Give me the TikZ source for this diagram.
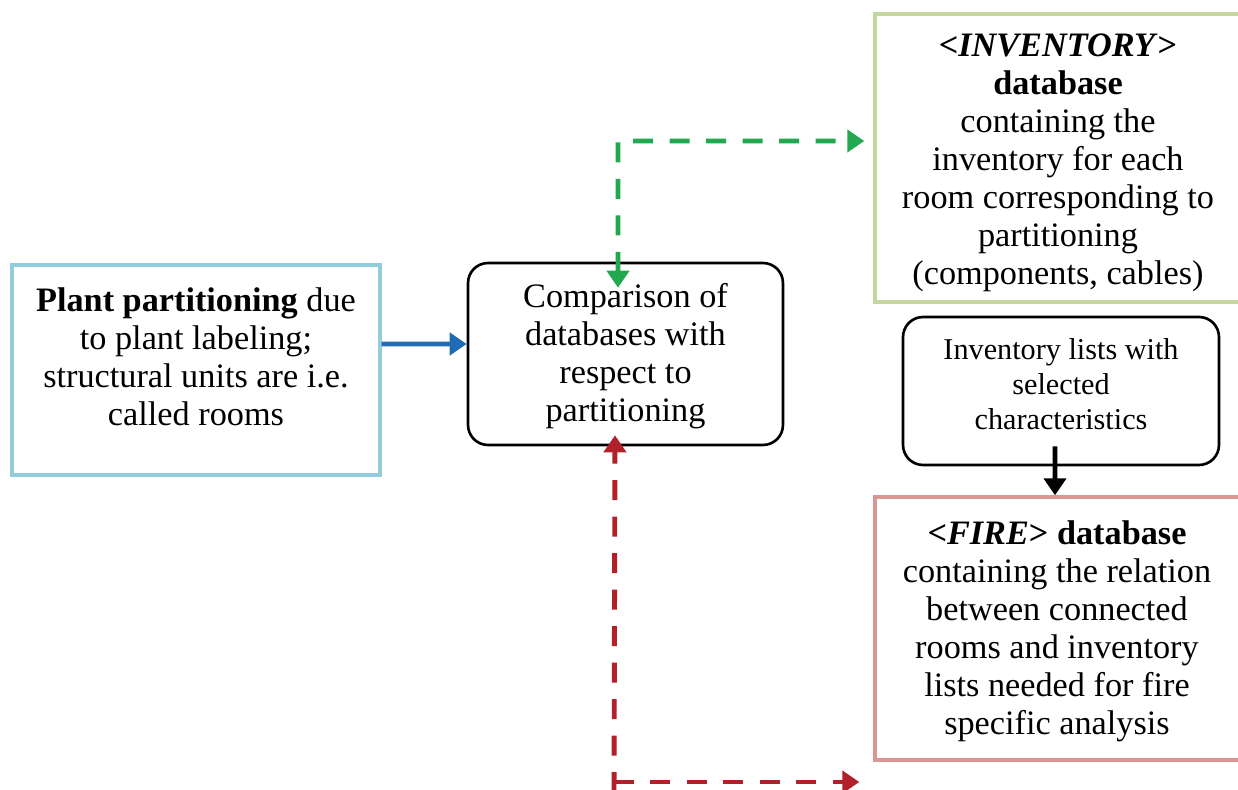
\documentclass[tikz,border=0pt]{standalone}
\usepackage{fontspec}
\setmainfont{Liberation Serif}
\newfontfamily\timesfont{Liberation Serif}
\usetikzlibrary{arrows.meta}
\definecolor{boxcyan}{RGB}{146,205,220}
\definecolor{boxgreen}{RGB}{195,214,155}
\definecolor{boxpink}{RGB}{217,150,148}
\definecolor{arrblue}{RGB}{31,107,181}
\definecolor{arrgreen}{RGB}{34,168,79}
\definecolor{arrred}{RGB}{178,32,42}
\begin{document}
\begin{tikzpicture}[x=0.02cm,y=-0.02cm,
    txt/.style={align=center,inner sep=0pt,font=\fontsize{19.5}{21.6}\selectfont},
    smalltxt/.style={align=center,inner sep=0pt,font=\timesfont\fontsize{17.2}{19.9}\selectfont},
    outbox/.style={draw=#1,line width=2pt,inner sep=0pt},
    roundbox/.style={draw,line width=1.5pt,rounded corners=0.4cm,inner sep=0pt},
    flow/.style={line width=2.8pt,-{Triangle[length=0.34cm,width=0.44cm]}},
    dashflow/.style={flow,dash pattern=on 0.4cm off 0.33cm}]
    \useasboundingbox (0,0) rectangle (1238,790);
    \clip (0,0) rectangle (1238,790);
    \node[outbox=boxcyan,minimum width=7.36cm,minimum height=4.2cm] (plant) at (196,370) {};
    \node[txt] (plantText) at (196,357) {\textbf{Plant partitioning} due\\to plant labeling;\\structural units are i.e.\\called rooms};
    \node[roundbox,minimum width=6.3cm,minimum height=3.64cm] (comp) at (625.5,354) {};
    \node[txt] (compText) at (625.5,356) {Comparison of\\databases with\\respect to\\partitioning};
    \node[outbox=boxgreen,minimum width=7.5cm,minimum height=5.76cm] (inv) at (1062.5,158) {};
    \node[txt] (invText) at (1058,163) {\textbf{<\textit{INVENTORY}>}\\\textbf{database}\\containing the\\inventory for each\\room corresponding to\\partitioning\\(components, cables)};
    \node[roundbox,minimum width=6.32cm,minimum height=2.96cm] (lists) at (1061,391) {};
    \node[smalltxt] (listsText) at (1061,384) {Inventory lists with\\selected\\characteristics};
    \node[outbox=boxpink,minimum width=7.5cm,minimum height=5.26cm] (fire) at (1062.5,628.5) {};
    \node[txt] (fireText) at (1057,631) {\textbf{<\textit{FIRE}> database}\\containing the relation\\between connected\\rooms and inventory\\lists needed for fire\\specific analysis};
    \draw[flow,arrblue] ([yshift=0.52cm]plant.east) -- ([yshift=0.2cm]comp.west);
    \coordinate (gTop) at (618,141);
    \draw[dashflow,arrgreen,{Triangle[length=0.34cm,width=0.44cm]}-{Triangle[length=0.34cm,width=0.44cm]}]
        ([xshift=-0.15cm,yshift=-0.52cm]comp.north) -- (gTop) -- ([xshift=-0.18cm]gTop -| inv.west);
    \coordinate (rCorner) at (614,782);
    \draw[dashflow,arrred] ([yshift=-0.2cm]rCorner) -- ([xshift=-0.21cm,yshift=0.22cm]comp.south);
    \draw[dashflow,arrred] (rCorner) -- ([xshift=-0.28cm]rCorner -| fire.west);
    \draw[flow] ([xshift=-0.12cm,yshift=0.4cm]lists.south) -- ([xshift=-0.15cm]fire.north);
\end{tikzpicture}
\end{document}
